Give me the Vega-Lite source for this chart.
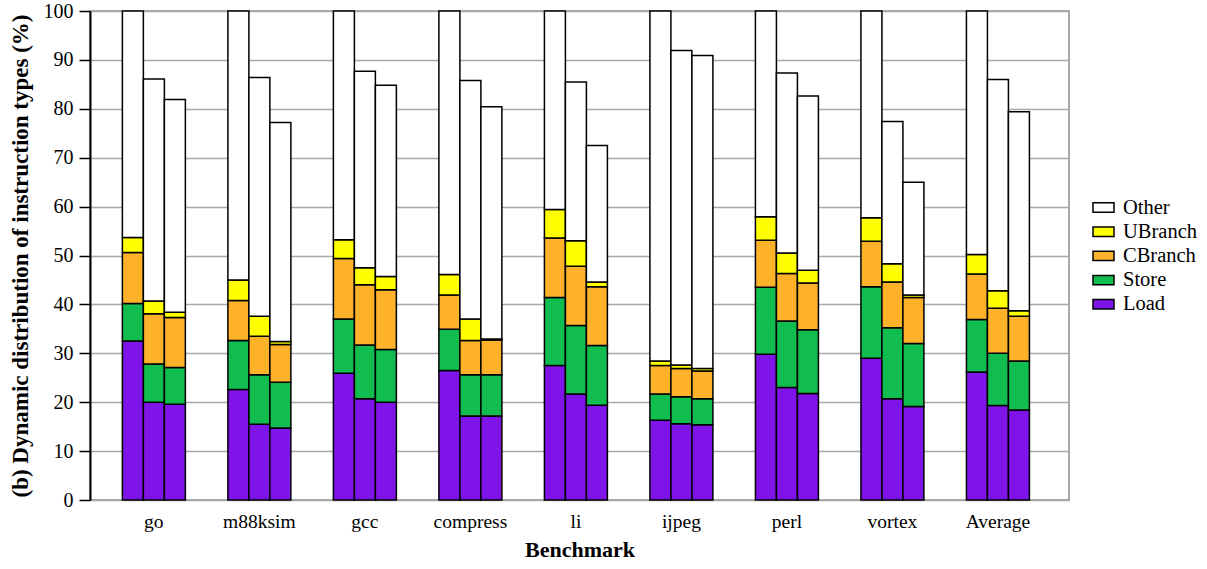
{
  "$schema": "https://vega.github.io/schema/vega-lite/v6.json",
  "width": 979,
  "height": 489,
  "autosize": {"type": "none"},
  "padding": {"left": 90, "top": 11, "right": 138, "bottom": 69},
  "background": "white",
  "config": {
    "font": "Liberation Serif",
    "view": {"stroke": "#8c8c8c", "strokeWidth": 1.5}
  },
  "data": {
    "values": [
      {"bench":"go","cfg":"A","type":"Load","value":32.5},{"bench":"go","cfg":"A","type":"Store","value":7.7},{"bench":"go","cfg":"A","type":"CBranch","value":10.4},{"bench":"go","cfg":"A","type":"UBranch","value":3.1},{"bench":"go","cfg":"A","type":"Other","value":46.3},
      {"bench":"go","cfg":"B","type":"Load","value":20.0},{"bench":"go","cfg":"B","type":"Store","value":7.8},{"bench":"go","cfg":"B","type":"CBranch","value":10.3},{"bench":"go","cfg":"B","type":"UBranch","value":2.6},{"bench":"go","cfg":"B","type":"Other","value":45.4},
      {"bench":"go","cfg":"C","type":"Load","value":19.6},{"bench":"go","cfg":"C","type":"Store","value":7.5},{"bench":"go","cfg":"C","type":"CBranch","value":10.2},{"bench":"go","cfg":"C","type":"UBranch","value":1.1},{"bench":"go","cfg":"C","type":"Other","value":43.5},
      {"bench":"m88ksim","cfg":"A","type":"Load","value":22.6},{"bench":"m88ksim","cfg":"A","type":"Store","value":10.0},{"bench":"m88ksim","cfg":"A","type":"CBranch","value":8.2},{"bench":"m88ksim","cfg":"A","type":"UBranch","value":4.2},{"bench":"m88ksim","cfg":"A","type":"Other","value":55.0},
      {"bench":"m88ksim","cfg":"B","type":"Load","value":15.5},{"bench":"m88ksim","cfg":"B","type":"Store","value":10.1},{"bench":"m88ksim","cfg":"B","type":"CBranch","value":7.9},{"bench":"m88ksim","cfg":"B","type":"UBranch","value":4.1},{"bench":"m88ksim","cfg":"B","type":"Other","value":48.8},
      {"bench":"m88ksim","cfg":"C","type":"Load","value":14.7},{"bench":"m88ksim","cfg":"C","type":"Store","value":9.4},{"bench":"m88ksim","cfg":"C","type":"CBranch","value":7.7},{"bench":"m88ksim","cfg":"C","type":"UBranch","value":0.6},{"bench":"m88ksim","cfg":"C","type":"Other","value":44.8},
      {"bench":"gcc","cfg":"A","type":"Load","value":25.9},{"bench":"gcc","cfg":"A","type":"Store","value":11.1},{"bench":"gcc","cfg":"A","type":"CBranch","value":12.4},{"bench":"gcc","cfg":"A","type":"UBranch","value":3.8},{"bench":"gcc","cfg":"A","type":"Other","value":46.8},
      {"bench":"gcc","cfg":"B","type":"Load","value":20.7},{"bench":"gcc","cfg":"B","type":"Store","value":11.0},{"bench":"gcc","cfg":"B","type":"CBranch","value":12.3},{"bench":"gcc","cfg":"B","type":"UBranch","value":3.5},{"bench":"gcc","cfg":"B","type":"Other","value":40.2},
      {"bench":"gcc","cfg":"C","type":"Load","value":20.0},{"bench":"gcc","cfg":"C","type":"Store","value":10.8},{"bench":"gcc","cfg":"C","type":"CBranch","value":12.2},{"bench":"gcc","cfg":"C","type":"UBranch","value":2.7},{"bench":"gcc","cfg":"C","type":"Other","value":39.1},
      {"bench":"compress","cfg":"A","type":"Load","value":26.5},{"bench":"compress","cfg":"A","type":"Store","value":8.4},{"bench":"compress","cfg":"A","type":"CBranch","value":7.0},{"bench":"compress","cfg":"A","type":"UBranch","value":4.2},{"bench":"compress","cfg":"A","type":"Other","value":53.9},
      {"bench":"compress","cfg":"B","type":"Load","value":17.2},{"bench":"compress","cfg":"B","type":"Store","value":8.4},{"bench":"compress","cfg":"B","type":"CBranch","value":7.0},{"bench":"compress","cfg":"B","type":"UBranch","value":4.4},{"bench":"compress","cfg":"B","type":"Other","value":48.8},
      {"bench":"compress","cfg":"C","type":"Load","value":17.2},{"bench":"compress","cfg":"C","type":"Store","value":8.4},{"bench":"compress","cfg":"C","type":"CBranch","value":7.1},{"bench":"compress","cfg":"C","type":"UBranch","value":0.2},{"bench":"compress","cfg":"C","type":"Other","value":47.5},
      {"bench":"li","cfg":"A","type":"Load","value":27.5},{"bench":"li","cfg":"A","type":"Store","value":13.9},{"bench":"li","cfg":"A","type":"CBranch","value":12.2},{"bench":"li","cfg":"A","type":"UBranch","value":5.8},{"bench":"li","cfg":"A","type":"Other","value":40.6},
      {"bench":"li","cfg":"B","type":"Load","value":21.7},{"bench":"li","cfg":"B","type":"Store","value":14.0},{"bench":"li","cfg":"B","type":"CBranch","value":12.1},{"bench":"li","cfg":"B","type":"UBranch","value":5.2},{"bench":"li","cfg":"B","type":"Other","value":32.5},
      {"bench":"li","cfg":"C","type":"Load","value":19.4},{"bench":"li","cfg":"C","type":"Store","value":12.2},{"bench":"li","cfg":"C","type":"CBranch","value":12.0},{"bench":"li","cfg":"C","type":"UBranch","value":1.0},{"bench":"li","cfg":"C","type":"Other","value":27.9},
      {"bench":"ijpeg","cfg":"A","type":"Load","value":16.3},{"bench":"ijpeg","cfg":"A","type":"Store","value":5.4},{"bench":"ijpeg","cfg":"A","type":"CBranch","value":5.8},{"bench":"ijpeg","cfg":"A","type":"UBranch","value":0.9},{"bench":"ijpeg","cfg":"A","type":"Other","value":71.6},
      {"bench":"ijpeg","cfg":"B","type":"Load","value":15.6},{"bench":"ijpeg","cfg":"B","type":"Store","value":5.5},{"bench":"ijpeg","cfg":"B","type":"CBranch","value":5.8},{"bench":"ijpeg","cfg":"B","type":"UBranch","value":0.7},{"bench":"ijpeg","cfg":"B","type":"Other","value":64.3},
      {"bench":"ijpeg","cfg":"C","type":"Load","value":15.4},{"bench":"ijpeg","cfg":"C","type":"Store","value":5.3},{"bench":"ijpeg","cfg":"C","type":"CBranch","value":5.7},{"bench":"ijpeg","cfg":"C","type":"UBranch","value":0.5},{"bench":"ijpeg","cfg":"C","type":"Other","value":64.0},
      {"bench":"perl","cfg":"A","type":"Load","value":29.8},{"bench":"perl","cfg":"A","type":"Store","value":13.7},{"bench":"perl","cfg":"A","type":"CBranch","value":9.6},{"bench":"perl","cfg":"A","type":"UBranch","value":4.8},{"bench":"perl","cfg":"A","type":"Other","value":42.1},
      {"bench":"perl","cfg":"B","type":"Load","value":23.0},{"bench":"perl","cfg":"B","type":"Store","value":13.6},{"bench":"perl","cfg":"B","type":"CBranch","value":9.7},{"bench":"perl","cfg":"B","type":"UBranch","value":4.2},{"bench":"perl","cfg":"B","type":"Other","value":36.8},
      {"bench":"perl","cfg":"C","type":"Load","value":21.8},{"bench":"perl","cfg":"C","type":"Store","value":13.0},{"bench":"perl","cfg":"C","type":"CBranch","value":9.6},{"bench":"perl","cfg":"C","type":"UBranch","value":2.6},{"bench":"perl","cfg":"C","type":"Other","value":35.6},
      {"bench":"vortex","cfg":"A","type":"Load","value":29.0},{"bench":"vortex","cfg":"A","type":"Store","value":14.6},{"bench":"vortex","cfg":"A","type":"CBranch","value":9.3},{"bench":"vortex","cfg":"A","type":"UBranch","value":4.8},{"bench":"vortex","cfg":"A","type":"Other","value":42.3},
      {"bench":"vortex","cfg":"B","type":"Load","value":20.7},{"bench":"vortex","cfg":"B","type":"Store","value":14.5},{"bench":"vortex","cfg":"B","type":"CBranch","value":9.4},{"bench":"vortex","cfg":"B","type":"UBranch","value":3.7},{"bench":"vortex","cfg":"B","type":"Other","value":29.1},
      {"bench":"vortex","cfg":"C","type":"Load","value":19.1},{"bench":"vortex","cfg":"C","type":"Store","value":12.9},{"bench":"vortex","cfg":"C","type":"CBranch","value":9.4},{"bench":"vortex","cfg":"C","type":"UBranch","value":0.5},{"bench":"vortex","cfg":"C","type":"Other","value":23.1},
      {"bench":"Average","cfg":"A","type":"Load","value":26.2},{"bench":"Average","cfg":"A","type":"Store","value":10.7},{"bench":"Average","cfg":"A","type":"CBranch","value":9.3},{"bench":"Average","cfg":"A","type":"UBranch","value":4.0},{"bench":"Average","cfg":"A","type":"Other","value":49.8},
      {"bench":"Average","cfg":"B","type":"Load","value":19.3},{"bench":"Average","cfg":"B","type":"Store","value":10.7},{"bench":"Average","cfg":"B","type":"CBranch","value":9.2},{"bench":"Average","cfg":"B","type":"UBranch","value":3.6},{"bench":"Average","cfg":"B","type":"Other","value":43.2},
      {"bench":"Average","cfg":"C","type":"Load","value":18.4},{"bench":"Average","cfg":"C","type":"Store","value":10.0},{"bench":"Average","cfg":"C","type":"CBranch","value":9.2},{"bench":"Average","cfg":"C","type":"UBranch","value":1.1},{"bench":"Average","cfg":"C","type":"Other","value":40.7}
    ]
  },
  "transform": [
    {"calculate": "indexof(['Load','Store','CBranch','UBranch','Other'], datum.type)", "as": "rank"}
  ],
  "mark": {"type": "bar", "stroke": "black", "strokeWidth": 1.5},
  "encoding": {
    "x": {
      "field": "bench",
      "type": "nominal",
      "sort": ["go","m88ksim","gcc","compress","li","ijpeg","perl","vortex","Average"],
      "scale": {"paddingInner": 0.403, "paddingOuter": 0.341, "align": 0.45},
      "axis": {
        "title": "Benchmark",
        "titleFontSize": 22,
        "titleFontWeight": "bold",
        "titleColor": "black",
        "titlePadding": 9,
        "labelFontSize": 19.5,
        "labelColor": "black",
        "labelAngle": 0,
        "labelPadding": 12,
        "ticks": false,
        "domain": false
      }
    },
    "xOffset": {"field": "cfg", "type": "nominal", "scale": {"paddingInner": 0, "paddingOuter": 0}},
    "y": {
      "field": "value",
      "type": "quantitative",
      "stack": "zero",
      "scale": {"domain": [0, 100], "nice": false},
      "axis": {
        "title": "(b) Dynamic distribution of instruction types (%)",
        "titleFontSize": 23,
        "titleFontWeight": "bold",
        "titleColor": "black",
        "titlePadding": 11,
        "labelFontSize": 20,
        "labelColor": "black",
        "labelPadding": 6,
        "values": [0,10,20,30,40,50,60,70,80,90,100],
        "tickColor": "black",
        "tickSize": 11,
        "tickWidth": 1.5,
        "domainColor": "black",
        "domainWidth": 2,
        "gridColor": "#a8a8a8",
        "gridWidth": 1.5,
        "gridOpacity": 1
      }
    },
    "color": {
      "field": "type",
      "type": "nominal",
      "sort": ["Other","UBranch","CBranch","Store","Load"],
      "scale": {
        "domain": ["Other","UBranch","CBranch","Store","Load"],
        "range": ["#ffffff","#ffff00","#fdb22a","#12bd4f","#7f14e8"]
      },
      "legend": {
        "title": null,
        "orient": "none",
        "legendX": 1002,
        "legendY": 185,
        "labelFontSize": 20.5,
        "labelColor": "black",
        "symbolType": "M-1,-0.45H1V0.45H-1Z",
        "symbolSize": 441,
        "symbolStrokeColor": "black",
        "symbolStrokeWidth": 1.5,
        "symbolOpacity": 1,
        "rowPadding": 2.2,
        "labelOffset": 8,
        "padding": 0
      }
    },
    "order": {"field": "rank", "type": "quantitative", "sort": "ascending"}
  }
}
